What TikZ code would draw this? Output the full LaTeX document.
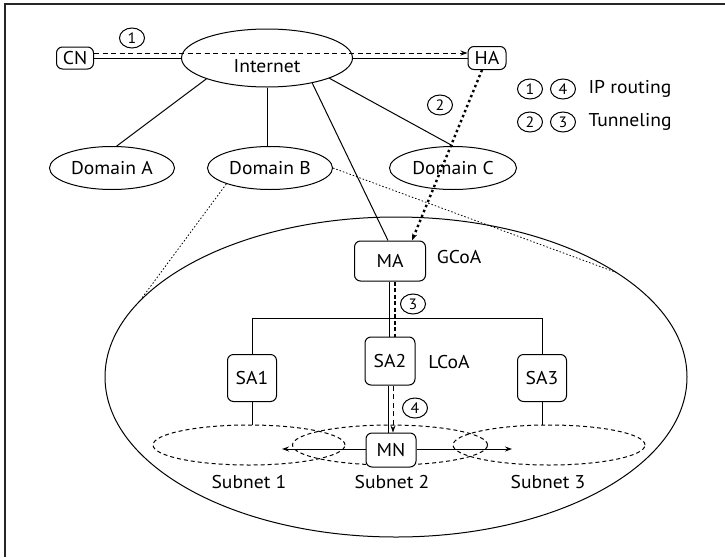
\documentclass[tikz,border=0pt]{standalone}
\usepackage{fontspec}
\setmainfont[FakeStretch=1.06]{PT Sans}
\usetikzlibrary{arrows.meta,shapes.geometric}
\begin{document}
\begin{tikzpicture}[x=1pt,y=-1pt,
  font=\fontsize{18.5}{20}\selectfont,
  box/.style={draw, rounded corners=6pt, line width=1pt, inner sep=0pt},
  ell/.style={draw, ellipse, line width=1pt, inner sep=0pt},
  sub/.style={draw, ellipse, line width=1pt, dash pattern=on 4pt off 3pt, inner sep=0pt, minimum height=40pt},
  num/.style={draw, ellipse, line width=1pt, minimum width=25pt, minimum height=20pt, inner sep=0pt, font=\fontsize{15}{16}\selectfont},
  link/.style={line width=1pt},
  hint/.style={line width=0.8pt, dash pattern=on 1.5pt off 2pt},
  tun/.style={line width=2.4pt, dash pattern=on 2.4pt off 3pt},
  tunv/.style={line width=1.8pt, dash pattern=on 4pt off 2.5pt},
  route/.style={line width=1pt, dash pattern=on 5pt off 3.5pt},
  tip/.style={-{Stealth[length=7pt,width=5pt]}}
]
\useasboundingbox (0,0) rectangle (725,557);
\draw[line width=1.6pt, black!85] (5,557) -- (5,4) -- (725,4);

% top level
\node[box, minimum width=37pt, minimum height=22pt] (cn) at (75,58) {CN};
\node[ell, minimum width=171pt, minimum height=58pt] (inet) at (267,58) {};
\node (inettext) at (267,66) {Internet};
\node[box, minimum width=38pt, minimum height=23pt] (ha) at (487,58) {HA};
\node[ell, minimum width=125pt, minimum height=43pt] (doma) at (112,168) {Domain A};
\node[ell, minimum width=125pt, minimum height=43pt] (domb) at (270,168) {Domain B};
\node[ell, minimum width=127pt, minimum height=43pt] (domc) at (453,168) {Domain C};

% domain B enlarged
\node[ell, minimum width=582pt, minimum height=320pt] (big) at (396,377) {};
\node[box, minimum width=71pt, minimum height=40pt] (ma) at (390,261) {MA};
\node (gcoa) at (459,257) {GCoA};
\node[box, minimum width=49pt, minimum height=47pt] (sa1) at (252,378) {SA1};
\node[box, minimum width=50pt, minimum height=48pt] (sa2) at (390,361) {SA2};
\node (lcoa) at (449,362) {LCoA};
\node[box, minimum width=49pt, minimum height=47pt] (sa3) at (542,378) {SA3};

\node[sub, minimum width=192pt] (s1) at (249,445) {};
\node[sub, minimum width=195pt] (s2) at (390,445) {};
\node[sub, minimum width=192pt] (s3) at (549,445) {};
\node[box, fill=white, minimum width=50pt, minimum height=34pt] (mn) at (391,450) {MN};
\node (s1l) at (249,482) {Subnet 1};
\node (s2l) at (392,482) {Subnet 2};
\node (s3l) at (548,482) {Subnet 3};

% numbered labels
\node[num] (n1) at (132,38) {1};
\node[num] (n2) at (440,105) {2};
\node[num] (n3) at (413,304) {3};
\node[num] (n4) at (415,408) {4};
\node[num] (l1) at (530,89) {1};
\node[num] (l4) at (563,89) {4};
\node[anchor=west] (lr) at (585,89) {IP routing};
\node[num] (l2) at (530,122) {2};
\node[num] (l3) at (563,122) {3};
\node[anchor=west] (lt) at (585,122) {Tunneling};

% internet links
\draw[link] (cn.east) -- (inet.west);
\draw[link] (inet.east) -- (ha.west);
\draw[route, tip] ([yshift=5pt]cn.east) -- ([yshift=5pt]ha.west);
\draw[link] (inet.199) -- (doma.78);
\draw[link] (inet.south) -- (inet.south |- domb.north);
\draw[link] (inet.342) -- (domc.north);
\draw[link] (inet.331) -- ([xshift=-2pt]ma.north);
\draw[tun, tip] ([xshift=-5pt]ha.south) -- ([xshift=-14pt]ma.north east);

% zoom lines
\draw[hint] (domb.200) -- (big.163);
\draw[hint] (domb.east) -- (big.25);

% hierarchy
\coordinate (busl) at (252,318);
\coordinate (busr) at (542,318);
\draw[link] (sa1.north) -- (busl) -- (busr) -- (sa3.north);
\draw[link] ([xshift=-1pt]ma.south) -- ([xshift=-1pt]sa2.north);
\draw[tunv] ([xshift=5pt]ma.south) -- ([xshift=5pt]sa2.north);
\draw[link] (sa1.south) -- (sa1.south |- s1.north);
\draw[link] (sa3.south) -- (sa3.south |- s3.north);
\draw[link] ([xshift=-2pt]sa2.south) -- ([xshift=-2pt]sa2.south |- mn.north);
\draw[route, tip] ([xshift=3pt]sa2.south) -- ([xshift=3pt]sa2.south |- mn.north);

% movement
\coordinate (arrl) at (282,449);
\coordinate (arrr) at (512,449);
\draw[link, tip] ([yshift=1pt]mn.west) -- (arrl);
\draw[link, tip] ([yshift=1pt]mn.east) -- (arrr);
\end{tikzpicture}
\end{document}
